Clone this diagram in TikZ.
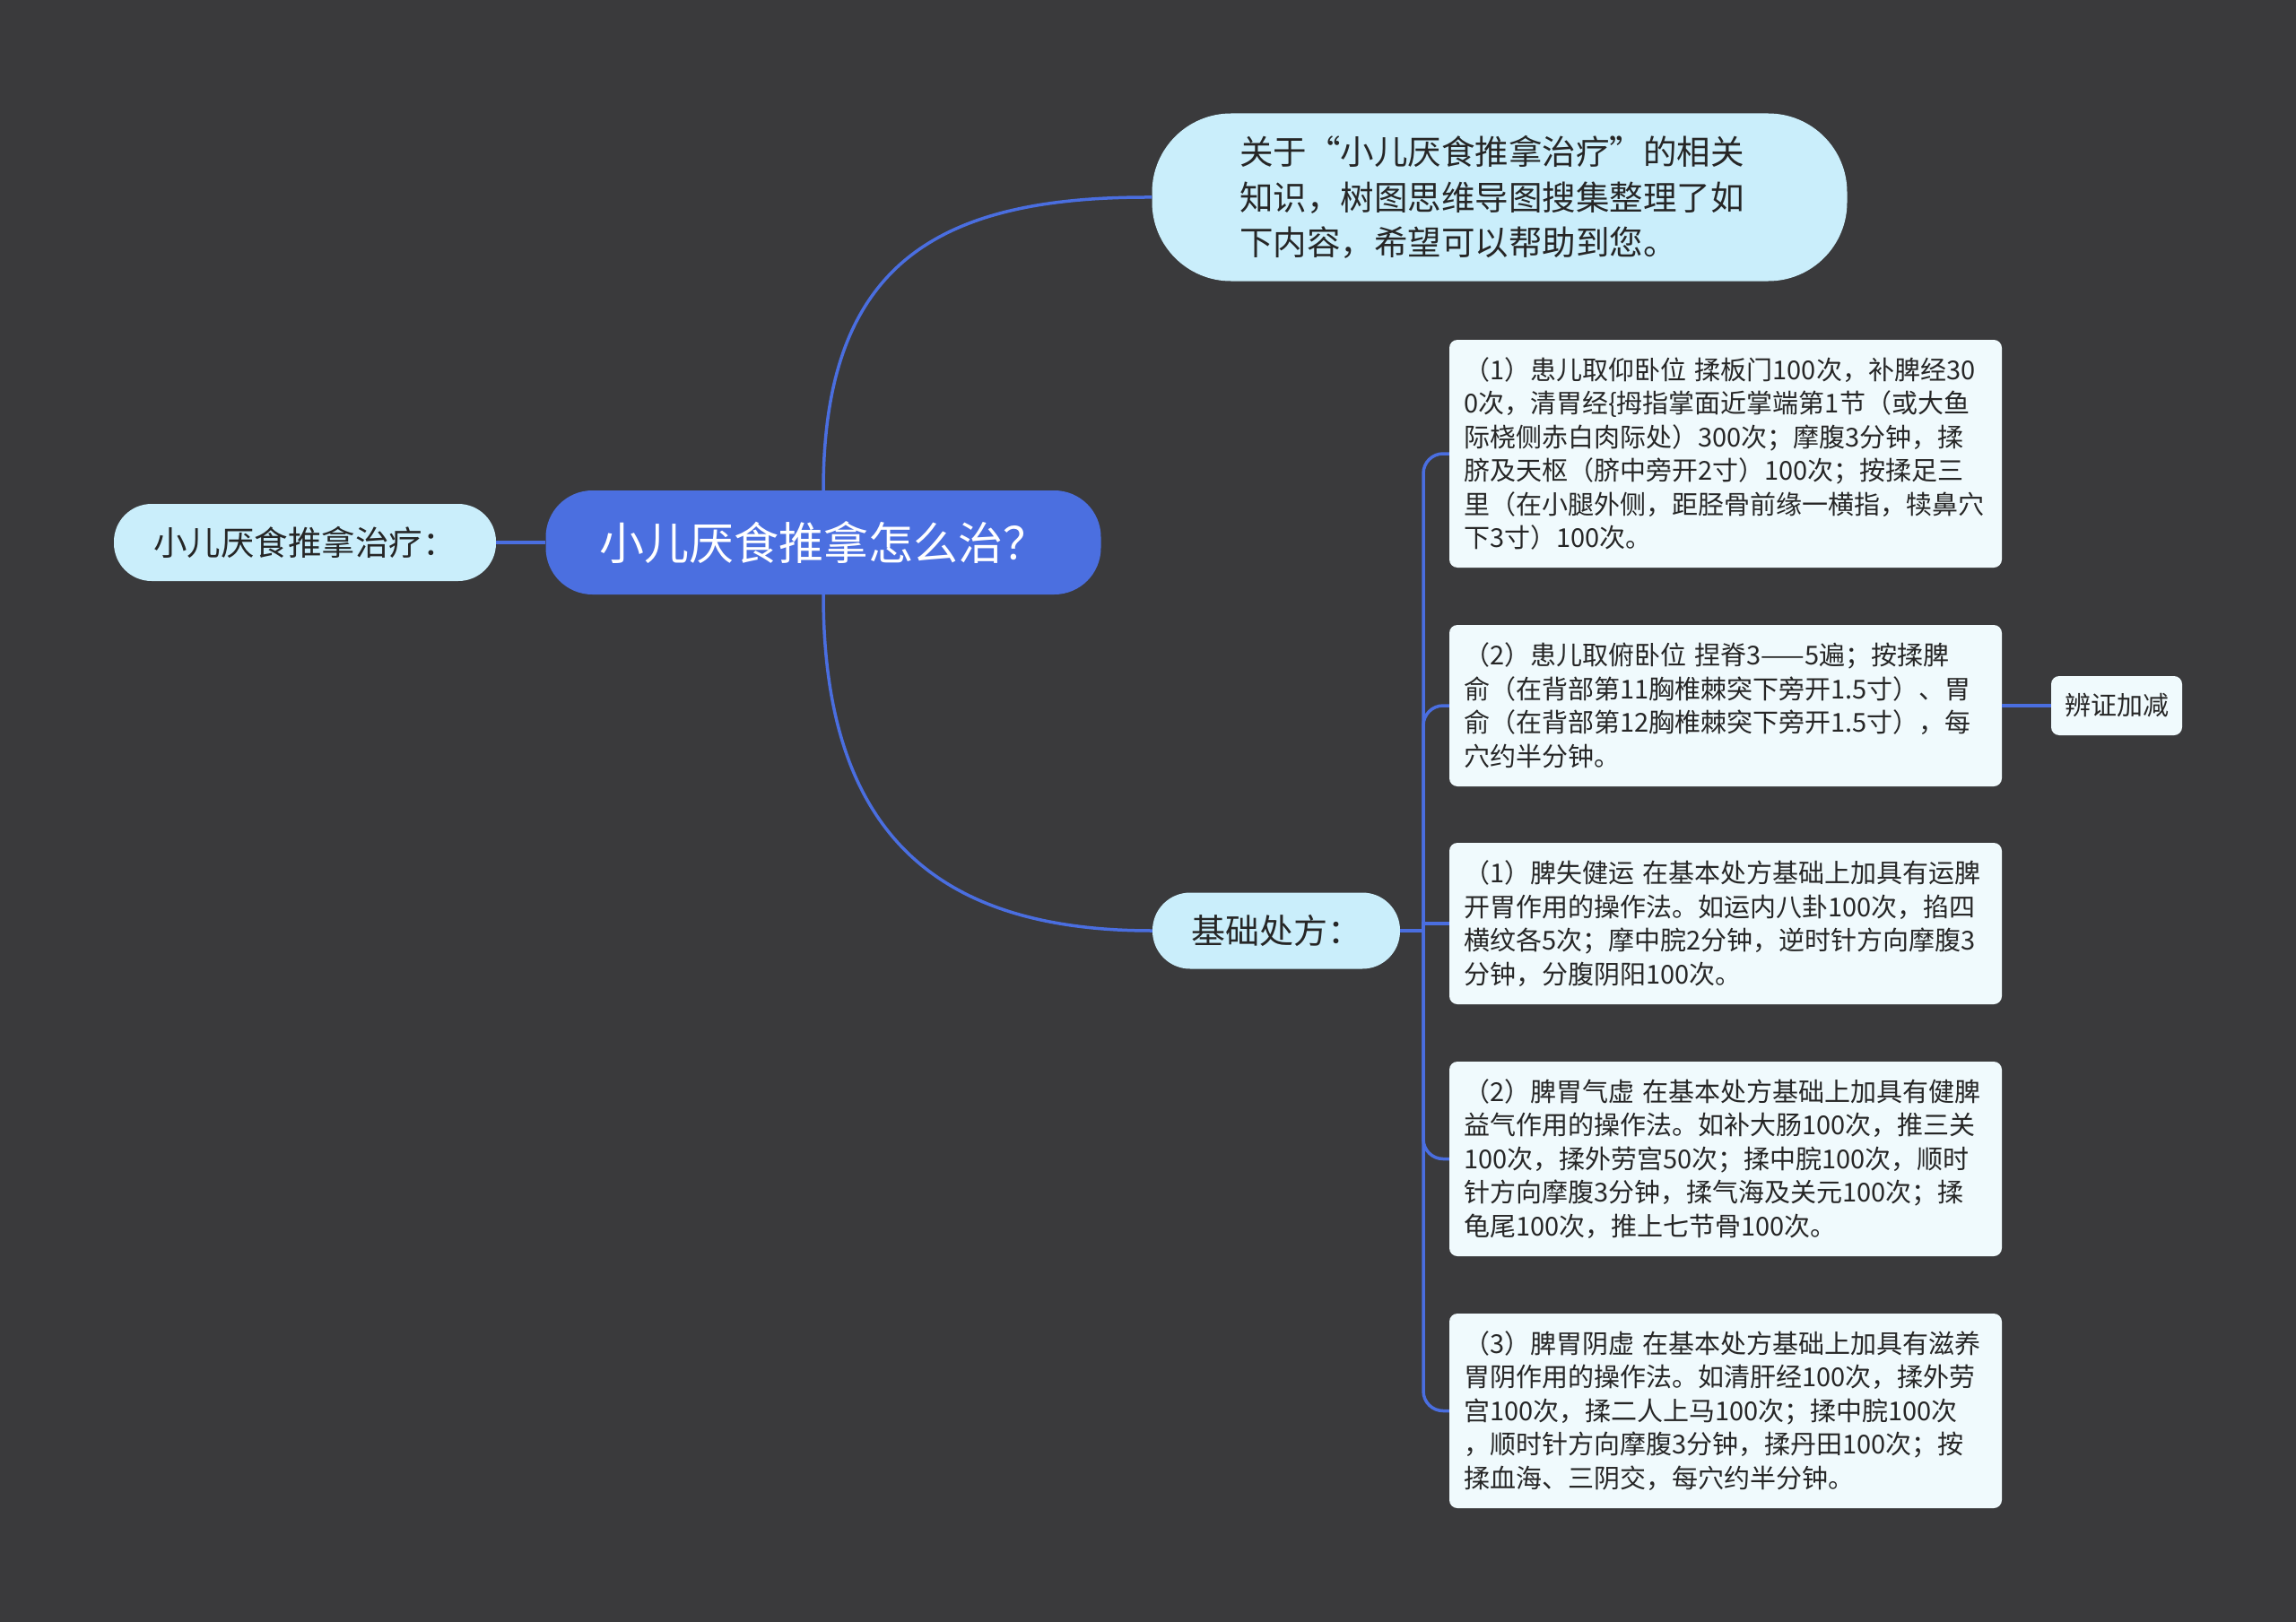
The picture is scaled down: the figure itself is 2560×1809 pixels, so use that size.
\documentclass[tikz,border=0pt]{standalone}
\usepackage{fontspec}
\setmainfont{Noto Sans CJK SC}
\definecolor{bg}{HTML}{3A3A3C}
\definecolor{linec}{HTML}{4A6EE0}
\definecolor{rootfill}{HTML}{4B6FE0}
\definecolor{lightfill}{HTML}{CAEEFB}
\definecolor{leaffill}{HTML}{F0FAFD}
\definecolor{txt}{HTML}{262626}
\begin{document}
\begin{tikzpicture}[x=1pt,y=-1pt,
 conn/.style={draw=linec, line width=3.5pt},
 rootnode/.style={fill=rootfill, rounded corners=52pt, minimum width=619pt, minimum height=116pt, inner sep=0pt, text=white, font=\fontsize{50}{60}\selectfont},
 pill/.style={fill=lightfill, text=txt, inner sep=0pt},
 leaf/.style={fill=leaffill, rounded corners=9pt, text=txt, text width=584pt, inner xsep=16pt, inner ysep=0pt, align=left, font=\fontsize{29}{37.5}\selectfont},
 tag/.style={fill=leaffill, rounded corners=9pt, text=txt, minimum width=146pt, minimum height=66pt, inner sep=0pt, font=\fontsize{29}{35}\selectfont}
 ]
\fill[bg] (0,0) rectangle (2560,1809);
\useasboundingbox (0,0) rectangle (2560,1809);

\node[rootnode] (root) at (918,605) {小儿厌食推拿怎么治？};
\node[pill, rounded corners=42pt, minimum width=426pt, minimum height=86pt, font=\fontsize{37.5}{45}\selectfont] (left) at (340,605) {小儿厌食推拿治疗：};
\node[pill, rounded corners=88pt, minimum width=775pt, minimum height=187pt, text width=580pt, align=left, font=\fontsize{37.5}{50.6}\selectfont] (top) at (1672,220) {\mbox{关于“小儿厌食推拿治疗”的相关}\\\mbox{知识，树图思维导图搜集整理了如}\\\mbox{下内容，希望可以帮助到您。}};
\node[pill, rounded corners=42pt, minimum width=276pt, minimum height=85pt, font=\fontsize{38}{45}\selectfont] (mid) at (1423,1038) {基础处方：};

\node[leaf, minimum height=254pt] (b1) at (1924,506) {\mbox{（1）患儿取仰卧位 揉板门100次，补脾经30}\\\mbox{0次，清胃经\{拇指掌面近掌端第1节（或大鱼}\\\mbox{际桡侧赤白肉际处）300次；摩腹3分钟，揉}\\\mbox{脐及天枢（脐中旁开2寸）100次；按揉足三}\\\mbox{里（在小腿外侧，距胫骨前缘一横指，犊鼻穴}\\\mbox{下3寸）100次。}};
\node[leaf, minimum height=180pt] (b2) at (1924,787) {\mbox{（2）患儿取俯卧位 捏脊3——5遍；按揉脾}\\\mbox{俞（在背部第11胸椎棘突下旁开1.5寸）、胃}\\\mbox{俞（在背部第12胸椎棘突下旁开1.5寸），每}\\\mbox{穴约半分钟。}};
\node[leaf, minimum height=180pt] (b3) at (1924,1030) {\mbox{（1）脾失健运 在基本处方基础上加具有运脾}\\\mbox{开胃作用的操作法。如运内八卦100次，掐四}\\\mbox{横纹各5次；摩中脘2分钟，逆时针方向摩腹3}\\\mbox{分钟，分腹阴阳100次。}};
\node[leaf, minimum height=217pt] (b4) at (1924,1292.5) {\mbox{（2）脾胃气虚 在基本处方基础上加具有健脾}\\\mbox{益气作用的操作法。如补大肠100次，推三关}\\\mbox{100次，揉外劳宫50次；揉中脘100次，顺时}\\\mbox{针方向摩腹3分钟，揉气海及关元100次；揉}\\\mbox{龟尾100次，推上七节骨100次。}};
\node[leaf, minimum height=217pt] (b5) at (1924,1573.5) {\mbox{（3）脾胃阴虚 在基本处方基础上加具有滋养}\\\mbox{胃阴作用的操作法。如清肝经100次，揉外劳}\\\mbox{宫100次，揉二人上马100次；揉中脘100次}\\\mbox{，顺时针方向摩腹3分钟，揉丹田100次；按}\\\mbox{揉血海、三阴交，每穴约半分钟。}};
\node[tag] (bz) at (2360,787) {辨证加减};

\draw[conn] (left.east) -- (root.west);
\draw[conn] (root.north) .. controls (918,294) and (1045,219) .. (top.west);
\draw[conn] (root.south) .. controls (918,930) and (1045,1038) .. (mid.west);
\coordinate (sp) at (1587,1038);
\draw[conn] (mid.east) -- (sp);
\foreach \b in {b1,b2,b4,b5}{
  \draw[conn, rounded corners=22pt] (sp) |- (\b.west);
}
\draw[conn] (sp) |- (b3.west);
\draw[conn] (b2.east) -- (bz.west);
\end{tikzpicture}
\end{document}
